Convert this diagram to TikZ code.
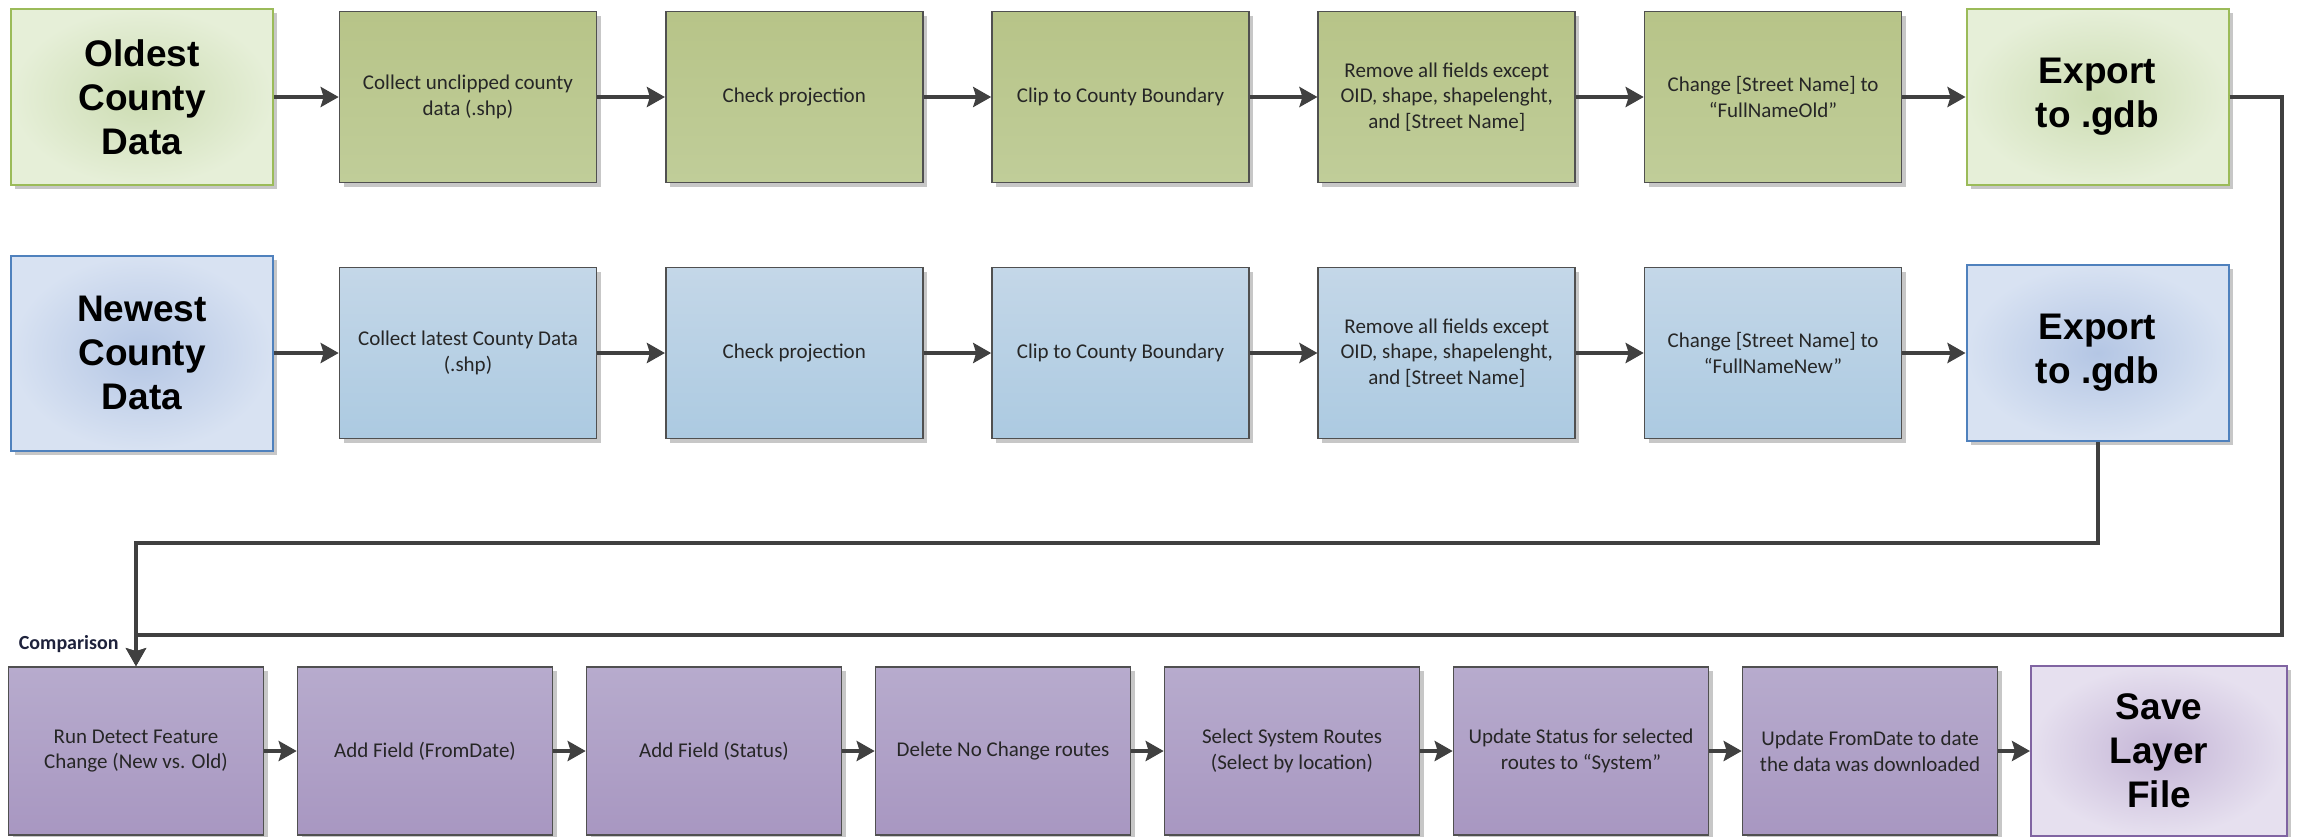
\documentclass[tikz,border=0pt]{standalone}
\usepackage{fontspec}
\setmainfont{Carlito}
\newfontfamily\arialf{Liberation Sans}
\usetikzlibrary{arrows.meta,shadows}
\definecolor{procborder}{RGB}{80,80,80}
\definecolor{connc}{RGB}{64,64,64}
\definecolor{pgT}{RGB}{183,196,136}
\definecolor{pgB}{RGB}{192,205,153}
\definecolor{pbT}{RGB}{196,215,232}
\definecolor{pbB}{RGB}{172,202,225}
\definecolor{ppT}{RGB}{183,171,205}
\definecolor{ppB}{RGB}{168,151,193}
\definecolor{tgD}{RGB}{155,187,89}
\definecolor{tgI}{RGB}{204,220,178}
\definecolor{tgO}{RGB}{230,239,216}
\definecolor{tbD}{RGB}{79,129,189}
\definecolor{tbI}{RGB}{180,198,228}
\definecolor{tbO}{RGB}{216,226,242}
\definecolor{tpD}{RGB}{128,100,162}
\definecolor{tpI}{RGB}{196,181,214}
\definecolor{tpO}{RGB}{230,224,239}
\definecolor{cmpc}{RGB}{30,34,60}
\tikzset{
  every node/.style={inner sep=0pt},
  shad/.style={general shadow={fill=black!22, shadow xshift=2pt, shadow yshift=-2pt}},
  proc/.style={shad, draw=procborder, line width=0.8pt, minimum width=128.5pt,
    minimum height=85.5pt, align=center,
    font=\fontsize{10.5}{12.8}\selectfont, text=black!85},
  pgreen/.style={proc, top color=pgT, bottom color=pgB},
  pblue/.style={proc, top color=pbT, bottom color=pbB},
  ppurple/.style={proc, top color=ppT, bottom color=ppB, minimum width=127.5pt, minimum height=84pt},
  term/.style={shad, line width=1pt, minimum width=131pt, minimum height=88pt, align=center,
    font=\arialf\bfseries\fontsize{18.5}{22}\selectfont, text=black},
  tgreen/.style={term, draw=tgD, inner color=tgI, outer color=tgO},
  tblue/.style={term, draw=tbD, inner color=tbI, outer color=tbO},
  tpurple/.style={term, draw=tpD, inner color=tpI, outer color=tpO, minimum width=128pt, minimum height=85pt},
  conn/.style={draw=connc, line width=2pt, -{Stealth[length=9pt,width=10pt,inset=1.5pt]}},
  cline/.style={draw=connc, line width=2pt}
}
\begin{document}
\begin{tikzpicture}[x=0.5pt,y=-0.5pt]
\useasboundingbox (0,0) rectangle (2300,836);
% Row 1
\node[tgreen] (o0) at (142,97) {Oldest\\County\\Data};
\node[pgreen] (o1) at (468,97) {Collect unclipped county\\data (.shp)};
\node[pgreen] (o2) at (794.25,97) {Check projection};
\node[pgreen] (o3) at (1120.5,97) {Clip to County Boundary};
\node[pgreen] (o4) at (1446.75,97) {Remove all fields except\\OID, shape, shapelenght,\\and [Street Name]};
\node[pgreen] (o5) at (1773,97) {Change [Street Name] to\\“FullNameOld”};
\node[tgreen] (o6) at (2097.5,97) {Export\\to .gdb};
% Row 2
\node[tblue, minimum height=97.5pt] (n0) at (142,353) {Newest\\County\\Data};
\node[pblue] (n1) at (468,353) {Collect latest County Data\\(.shp)};
\node[pblue] (n2) at (794.25,353) {Check projection};
\node[pblue] (n3) at (1120.5,353) {Clip to County Boundary};
\node[pblue] (n4) at (1446.75,353) {Remove all fields except\\OID, shape, shapelenght,\\and [Street Name]};
\node[pblue] (n5) at (1773,353) {Change [Street Name] to\\“FullNameNew”};
\node[tblue] (n6) at (2097.5,353) {Export\\to .gdb};
% Row 3
\node[ppurple] (c1) at (136,751) {Run Detect Feature\\Change (New vs. Old)};
\node[ppurple] (c2) at (425,751) {Add Field (FromDate)};
\node[ppurple] (c3) at (714,751) {Add Field (Status)};
\node[ppurple] (c4) at (1003,751) {Delete No Change routes};
\node[ppurple] (c5) at (1292,751) {Select System Routes\\(Select by location)};
\node[ppurple] (c6) at (1581,751) {Update Status for selected\\routes to “System”};
\node[ppurple] (c7) at (1870,751) {Update FromDate to date\\the data was downloaded};
\node[tpurple] (c8) at (2159,751) {Save\\Layer\\File};
\node[anchor=east, font=\bfseries\fontsize{10}{12}\selectfont, text=cmpc] (cmp) at (119,644) {Comparison};
% connectors
\foreach \a/\b in {o0/o1,o1/o2,o2/o3,o3/o4,o4/o5,o5/o6,n0/n1,n1/n2,n2/n3,n3/n4,n4/n5,n5/n6,c1/c2,c2/c3,c3/c4,c4/c5,c5/c6,c6/c7,c7/c8}
  \draw[conn] (\a.east) -- (\b.west);
\coordinate (rc) at (2282,635);
\coordinate (mc) at (2097.5,543);
\draw[conn] (o6.east) -| (rc) -| (c1.north);
\draw[conn] (n6.south) -- (mc) -| (c1.north);
\end{tikzpicture}
\end{document}
